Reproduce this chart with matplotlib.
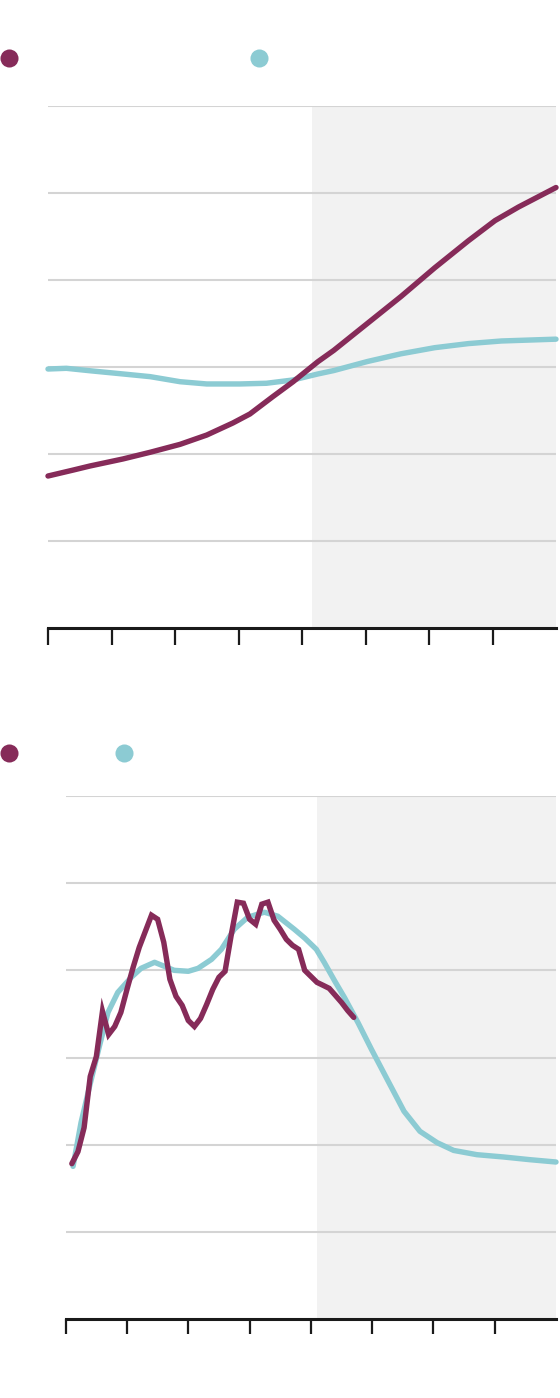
import matplotlib
matplotlib.use("Agg")
import matplotlib.pyplot as plt
from matplotlib.lines import Line2D

# ---------------- data ----------------
# Top panel
top_maroon_x = [1950, 1954, 1956.6, 1961.8, 1966.1, 1970.8, 1975, 1979.1, 1981.8, 1985.4,
                1988.6, 1992.5, 1995, 2000.3, 2005.6, 2010.9, 2016.2, 2020.4, 2024.1, 2030]
top_maroon_y = [1.747, 1.816, 1.862, 1.943, 2.020, 2.111, 2.218, 2.356, 2.460, 2.659,
                2.831, 3.061, 3.191, 3.501, 3.811, 4.140, 4.451, 4.683, 4.839, 5.063]

top_teal_x = [1950, 1952.9, 1956.6, 1961.8, 1966.1, 1970.8, 1975, 1980.2, 1984.4, 1988.6,
              1992.5, 1995, 2000.3, 2005.6, 2010.9, 2016.2, 2021.4, 2030]
top_teal_y = [2.977, 2.985, 2.957, 2.920, 2.889, 2.831, 2.805, 2.805, 2.813, 2.851,
              2.920, 2.959, 3.063, 3.152, 3.222, 3.269, 3.299, 3.320]

# Bottom panel
bot_maroon_x = list(range(1951, 1998))
bot_maroon_y = [1.782, 1.920, 2.195, 2.782, 3.011, 3.529, 3.264, 3.356, 3.517, 3.782,
                4.034, 4.264, 4.448, 4.632, 4.586, 4.322, 3.897, 3.701, 3.598, 3.425,
                3.356, 3.448, 3.609, 3.782, 3.920, 3.989, 4.402, 4.782, 4.770, 4.586,
                4.529, 4.759, 4.782, 4.575, 4.471, 4.356, 4.287, 4.241, 4.000, 3.931,
                3.862, 3.828, 3.793, 3.713, 3.632, 3.540, 3.460]

bot_teal_x = [1951.2, 1952.5, 1953.9, 1955.5, 1956.9, 1958.5, 1960.7, 1962.3, 1964.5, 1966.1,
              1967.7, 1970.0, 1971.6, 1973.8, 1975.4, 1977.5, 1979.7, 1982.4, 1984.6, 1987.3,
              1989.0, 1990.9, 1992.2, 1993.9, 1995.5, 1997.7, 1999.9, 2002.6, 2005.2, 2007.8,
              2010.6, 2013.3, 2017.1, 2021.4, 2025.7, 2030]
bot_teal_y = [1.751, 2.253, 2.670, 3.130, 3.517, 3.747, 3.920, 4.023, 4.092, 4.046,
              4.000, 3.989, 4.023, 4.126, 4.241, 4.471, 4.609, 4.667, 4.621, 4.471,
              4.370, 4.241, 4.089, 3.877, 3.686, 3.399, 3.092, 2.730, 2.383, 2.153,
              2.023, 1.934, 1.885, 1.859, 1.828, 1.801]

x_ticks = [1950, 1960, 1970, 1980, 1990, 2000, 2010, 2020]
y_grid = [1, 2, 3, 4, 5, 6]
top_shade_start = 1991.5
bot_shade_start = 1991.0

# ---------------- style ----------------
MAROON = "#862b59"
TEAL = "#8ccbd3"
GRID = "#d4d4d4"
SHADE = "#f2f2f2"

W, H = 560, 1398
fig = plt.figure(figsize=(W / 100, H / 100), dpi=100)
fig.patch.set_facecolor("white")


def make_axes(left, right, top, bottom):
    return fig.add_axes([left / W, 1 - bottom / H, (right - left) / W, (bottom - top) / H])


def style(ax, shade_start, ticklen):
    ax.set_xlim(1950, 2030)
    ax.set_ylim(0, 6)
    ax.axvspan(shade_start, 2030, color=SHADE, zorder=0, lw=0)
    for g in y_grid:
        ax.axhline(g, color=GRID, lw=1.5, zorder=1)
    for s in ["left", "right", "top"]:
        ax.spines[s].set_visible(False)
    ax.spines["bottom"].set_linewidth(2.2)
    ax.spines["bottom"].set_color("#1a1a1a")
    ax.spines["bottom"].set_zorder(5)
    ax.set_xticks(x_ticks)
    ax.set_xticklabels([])
    ax.set_yticks([])
    ax.tick_params(axis="x", length=ticklen, width=1.6, color="#1a1a1a", direction="out")
    ax.set_facecolor("none")


# top panel
ax1 = make_axes(48, 556, 106, 628)
style(ax1, top_shade_start, 12.5)
ax1.plot(top_teal_x, top_teal_y, color=TEAL, lw=3.9, solid_capstyle="round", zorder=3, clip_on=False)
ax1.plot(top_maroon_x, top_maroon_y, color=MAROON, lw=3.9, solid_capstyle="round", zorder=4, clip_on=False)

# bottom panel
ax2 = make_axes(65.7, 556, 796, 1319)
style(ax2, bot_shade_start, 10.5)
ax2.plot(bot_teal_x, bot_teal_y, color=TEAL, lw=3.9, solid_capstyle="round", zorder=3, clip_on=False)
ax2.plot(bot_maroon_x, bot_maroon_y, color=MAROON, lw=3.9, solid_capstyle="round",
         solid_joinstyle="miter", zorder=4, clip_on=False)

# legend dots
for (px, py, c) in [(9, 58, MAROON), (259, 58, TEAL), (9, 753, MAROON), (124, 753, TEAL)]:
    fig.add_artist(Line2D([px / W], [1 - py / H], marker="o", markersize=13, color=c,
                          markeredgewidth=0, linestyle="none", transform=fig.transFigure))

fig.savefig("out.png", dpi=100)
